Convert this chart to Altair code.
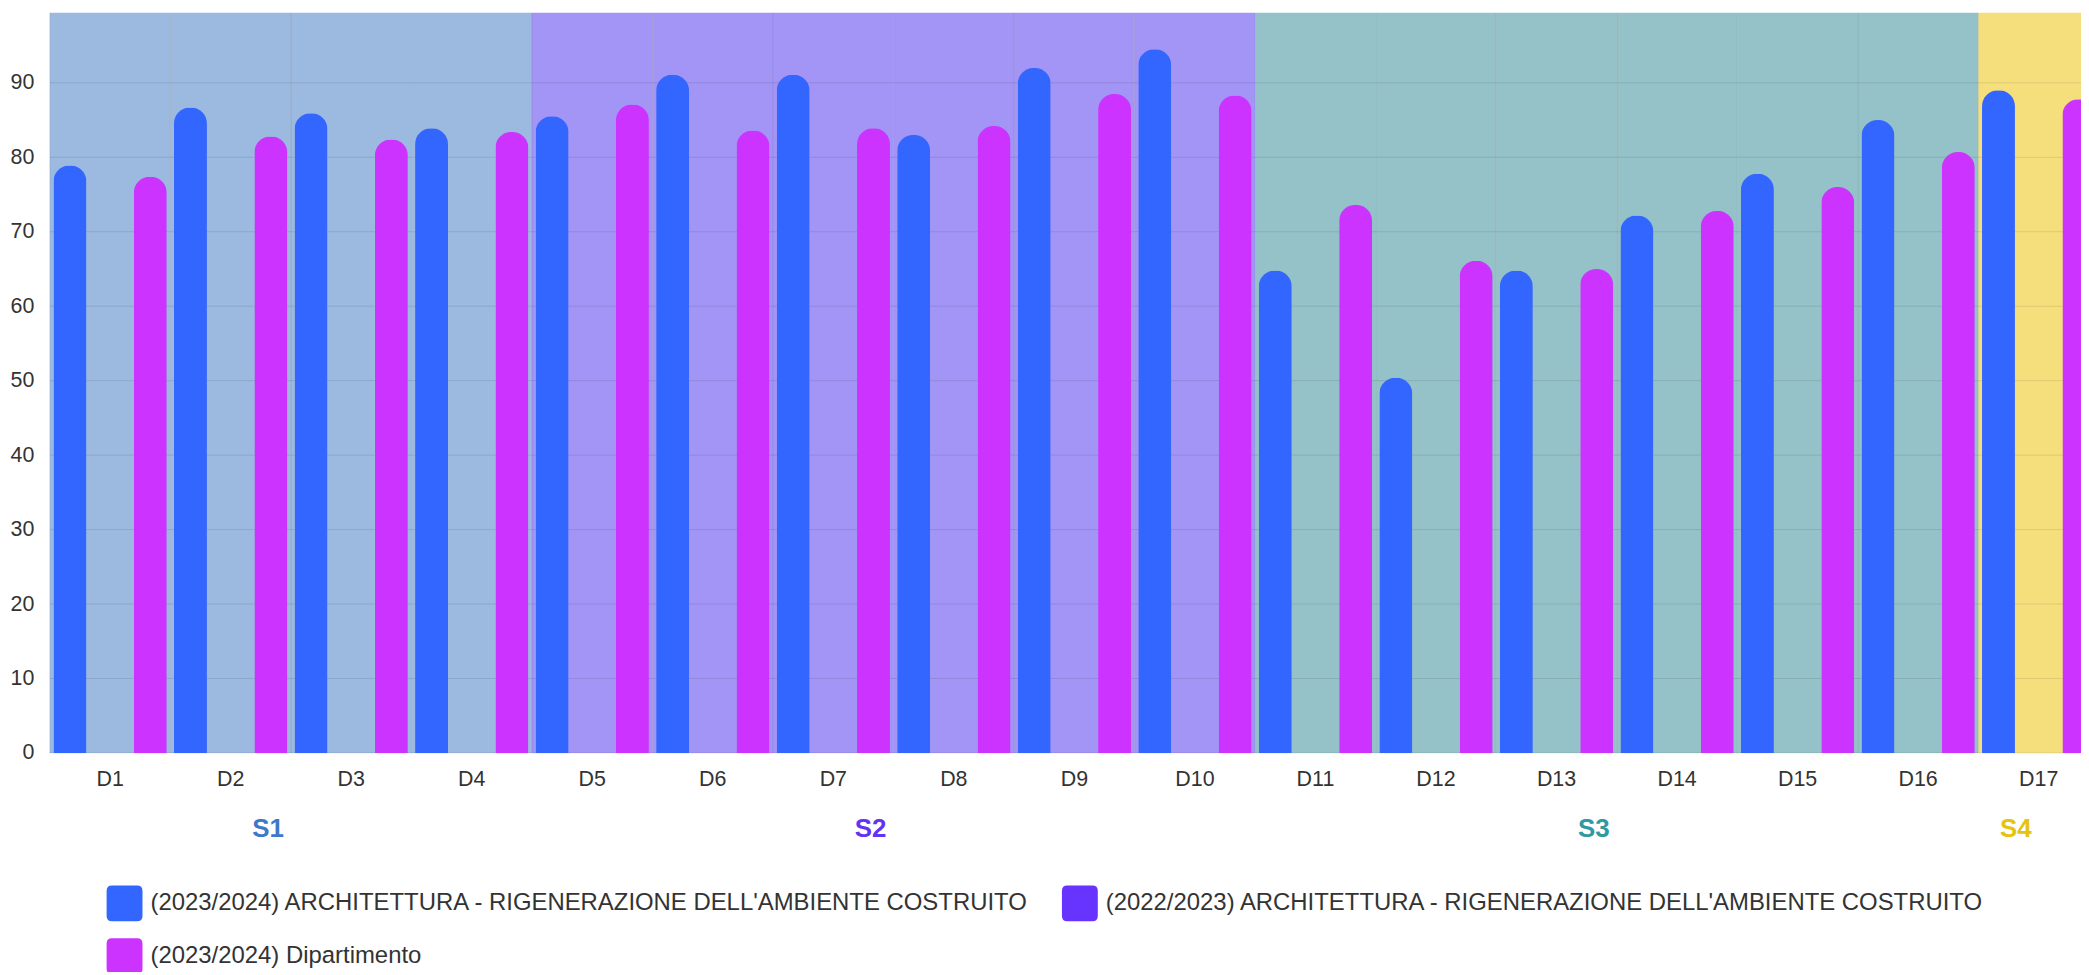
import altair as alt
import pandas as pd

# ---------------- data ----------------
categories = ["D1", "D2", "D3", "D4", "D5", "D6", "D7", "D8", "D9", "D10",
              "D11", "D12", "D13", "D14", "D15", "D16", "D17"]
sections = ["S1", "S1", "S1", "S1",
            "S2", "S2", "S2", "S2", "S2", "S2",
            "S3", "S3", "S3", "S3", "S3", "S3",
            "S4"]
series_names = [
    "(2023/2024) ARCHITETTURA - RIGENERAZIONE DELL'AMBIENTE COSTRUITO",
    "(2022/2023) ARCHITETTURA - RIGENERAZIONE DELL'AMBIENTE COSTRUITO",
    "(2023/2024) Dipartimento",
]
arch_2023 = [78.9, 86.7, 85.9, 83.9, 85.5, 91.1, 91.1, 83.0, 92.0, 94.5,
             64.8, 50.4, 64.8, 72.2, 77.8, 85.0, 89.0]
arch_2022 = [None] * 17
dip_2023 = [77.4, 82.8, 82.4, 83.4, 87.1, 83.6, 83.9, 84.2, 88.5, 88.3,
            73.6, 66.1, 65.0, 72.8, 76.0, 80.7, 87.8]
y_ticks = [0, 10, 20, 30, 40, 50, 60, 70, 80, 90]
section_names = ["S1", "S2", "S3", "S4"]

# ---------------- styles ----------------
series_colors = {"(2023/2024) ARCHITETTURA - RIGENERAZIONE DELL'AMBIENTE COSTRUITO": "#3366ff",
                 "(2022/2023) ARCHITETTURA - RIGENERAZIONE DELL'AMBIENTE COSTRUITO": "#6633ff",
                 "(2023/2024) Dipartimento": "#cc33ff"}
band_colors = ["#9cb9e0", "#a395f6", "#94c2c8", "#f5df7c"]
label_colors = ["#3f78c8", "#6233f5", "#2f9aa0", "#e6c211"]
FONT = "Liberation Sans"

W = 2039           # visible plot width (clipped at window edge)
H = 743
STEP = 121.0       # width of one category
Y_MAX = 99.4

# legend lays entries column-wise: order so rows read 1,2 / 3
legend_order = [series_names[0], series_names[2], series_names[1]]

# ---------------- tables ----------------
rows = []
for name, vals in zip(series_names, [arch_2023, arch_2022, dip_2023]):
    for c, v in zip(categories, vals):
        if v is not None:
            rows.append({"cat": c, "series": name, "value": v})
bars_df = pd.DataFrame(rows)
bands_df = pd.DataFrame({"cat": categories, "group": sections})
ticks_df = pd.DataFrame({"v": y_ticks})

# centre of each section, expressed as category + band position
even_rows, odd_rows = [], []
for s in section_names:
    idx = [i for i, g in enumerate(sections) if g == s]
    first, last = idx[0], idx[-1]
    n = last - first + 1
    if n % 2 == 0:
        even_rows.append({"group": s, "anchor": categories[first + n // 2]})
    else:
        odd_rows.append({"group": s, "anchor": categories[first + n // 2]})
even_df = pd.DataFrame(even_rows)
odd_df = pd.DataFrame(odd_rows)

x_scale = alt.Scale(domain=categories, range=[0, STEP * len(categories)],
                    paddingInner=0, paddingOuter=0)
y_scale = alt.Scale(domain=[0, Y_MAX], nice=False)

rounded = ("M-0.7,-1 L0.7,-1 Q1,-1 1,-0.7 L1,0.7 Q1,1 0.7,1 L-0.7,1 "
           "Q-1,1 -1,0.7 L-1,-0.7 Q-1,-1 -0.7,-1 Z")

bands = alt.Chart(bands_df).mark_rect().encode(
    x=alt.X("cat:N", scale=x_scale, sort=categories,
            axis=alt.Axis(title=None, domain=False, ticks=False, grid=False,
                          labelFontSize=21.5, labelColor="#333333",
                          labelPadding=16, labelAngle=0)),
    fill=alt.Fill("group:N", scale=alt.Scale(domain=section_names, range=band_colors),
                  legend=None),
)

hgrid = alt.Chart(ticks_df).mark_rule(color="#000000", opacity=0.1, strokeWidth=1).encode(
    y=alt.Y("v:Q", scale=y_scale,
            axis=alt.Axis(title=None, domain=False, ticks=False, grid=False,
                          values=y_ticks, labelFontSize=21.5, labelColor="#333333",
                          labelPadding=16)),
)

vgrid = alt.Chart(bands_df).mark_rule(color="#000000", opacity=0.1, strokeWidth=1).encode(
    x=alt.X("cat:N", scale=x_scale, sort=categories, bandPosition=0),
)

bars = alt.Chart(bars_df).mark_bar(cornerRadiusTopLeft=16, cornerRadiusTopRight=16).encode(
    x=alt.X("cat:N", scale=x_scale, sort=categories),
    xOffset=alt.XOffset("series:N",
                        scale=alt.Scale(domain=series_names, paddingInner=0.18,
                                        paddingOuter=0.09)),
    y=alt.Y("value:Q", scale=y_scale),
    color=alt.Color("series:N",
                    scale=alt.Scale(domain=legend_order,
                                    range=[series_colors[s] for s in legend_order]),
                    legend=alt.Legend(orient="none", legendX=57, legendY=876,
                                      columns=2, title=None,
                                      symbolType=rounded, symbolSize=1296,
                                      symbolStrokeWidth=0, symbolOpacity=1,
                                      labelFontSize=24, labelColor="#333333",
                                      labelOffset=8, labelLimit=3000,
                                      rowPadding=17, columnPadding=32,
                                      padding=0)),
)

sec_even = alt.Chart(even_df).mark_text(
    fontSize=26, fontWeight="bold", baseline="middle", align="center", dx=-23
).encode(
    x=alt.X("anchor:N", scale=x_scale, sort=categories, bandPosition=0),
    y=alt.value(H + 76),
    text="group:N",
    color=alt.Color("group:N", scale=alt.Scale(domain=section_names, range=label_colors),
                    legend=None),
)
sec_odd = alt.Chart(odd_df).mark_text(
    fontSize=26, fontWeight="bold", baseline="middle", align="center", dx=-23
).encode(
    x=alt.X("anchor:N", scale=x_scale, sort=categories, bandPosition=0.5),
    y=alt.value(H + 76),
    text="group:N",
    color=alt.Color("group:N", scale=alt.Scale(domain=section_names, range=label_colors),
                    legend=None),
)

chart = alt.layer(bands, hgrid, vgrid, bars, sec_even, sec_odd).resolve_scale(
    color="independent"
).properties(
    width=W, height=H,
    autosize=alt.AutoSizeParams(type="none"),
    padding={"left": 42, "top": 3, "right": 0, "bottom": 218},
).configure(font=FONT).configure_view(stroke=None)

chart.save("out.html", embed_options={"renderer": "svg", "actions": False})
